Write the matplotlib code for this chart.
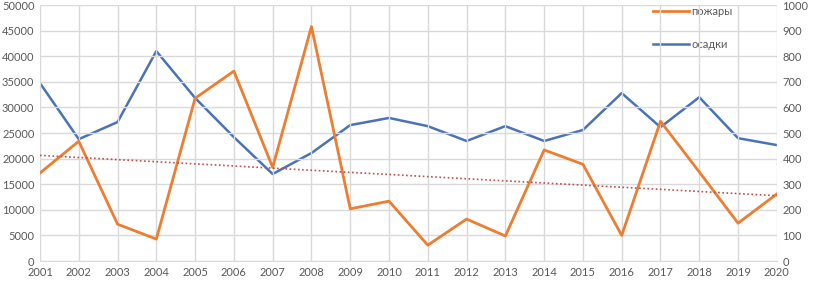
import numpy as np
import matplotlib
matplotlib.use("Agg")
import matplotlib.pyplot as plt

plt.rcParams['font.family'] = ['Lato', 'DejaVu Sans']

# --- data ---
years = list(range(2001, 2021))
fires = [17200, 23400, 7200, 4300, 31800, 37100, 18300, 45800, 10200, 11700,
         3100, 8200, 4900, 21700, 18900, 5000, 27300, 17400, 7400, 13100]
rain = [695, 476, 543, 820, 637, 484, 340, 422, 531, 559,
        527, 469, 527, 469, 512, 656, 523, 640, 480, 453]

ORANGE = "#ED7D31"
BLUE = "#4A72B8"
GRID = "#D9D9D9"
TXT = "#595959"

fig = plt.figure(figsize=(8.16, 2.81), dpi=100)
ax1 = fig.add_axes([0.049, 0.071, 0.903, 0.911])
ax2 = ax1.twinx()

# orange on top of blue
ax1.set_zorder(ax2.get_zorder() + 1)
ax1.patch.set_visible(False)

l1, = ax1.plot(years, fires, color=ORANGE, lw=2, label="пожары")
# linear trend of the fires series
k, b = np.polyfit(years, fires, 1)
trend = [k * y + b for y in years]
ax1.plot(years, trend, color="#C0504D", lw=1.2, ls=(0, (1, 1.5)))

l2, = ax2.plot(years, rain, color=BLUE, lw=1.8, label="осадки")

ax1.set_xlim(2001, 2020)
ax1.set_ylim(0, 50000)
ax2.set_ylim(0, 1000)
ax1.set_xticks(years)
ax1.set_yticks(range(0, 50001, 5000))
ax2.set_yticks(range(0, 1001, 100))

ax1.grid(True, color=GRID, lw=1)
ax1.set_axisbelow(True)
for ax in (ax1, ax2):
    for s in ax.spines.values():
        s.set_visible(False)
    ax.tick_params(length=0, labelsize=8, colors=TXT, pad=4)
ax1.spines['bottom'].set_visible(True)
ax1.spines['bottom'].set_color(GRID)

ax2.legend([l1, l2], ["пожары", "осадки"], loc="upper left",
           bbox_to_anchor=(0.818, 1.035), frameon=False, fontsize=8,
           labelcolor=TXT, labelspacing=1.95, handlelength=3.3,
           handletextpad=0.2)

fig.savefig("out.png", dpi=100)
